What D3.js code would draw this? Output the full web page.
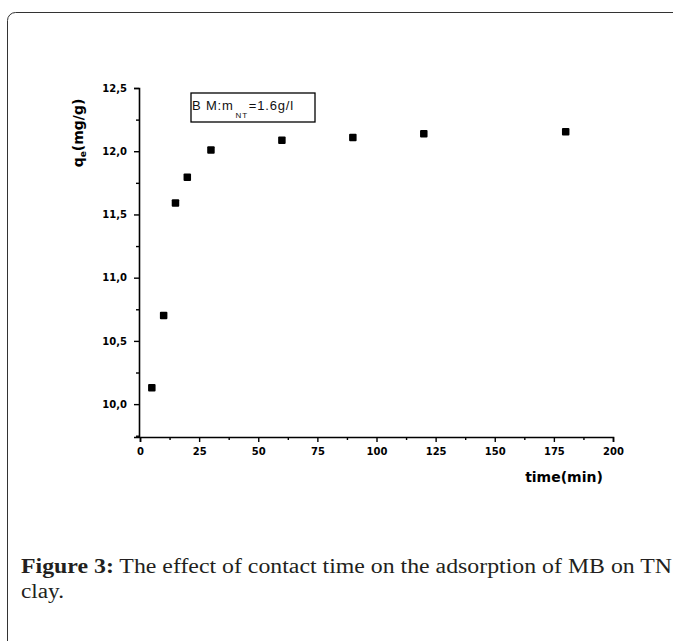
<!DOCTYPE html>
<html>
<head>
<meta charset="utf-8">
<script src="https://cdn.jsdelivr.net/npm/d3@7"></script>
<style>
  body { margin: 0; background: #fff; }
  svg { display: block; }
</style>
</head>
<body>
<svg id="chart" width="673" height="641"></svg>
<script>
// ---- data
const timeMin = [5, 10, 15, 20, 30, 60, 90, 120, 180];
const qe = [10.13, 10.70, 11.59, 11.795, 12.01, 12.087, 12.108, 12.139, 12.155];
const xTicks = [0, 25, 50, 75, 100, 125, 150, 175, 200];
const yTicks = [10.0, 10.5, 11.0, 11.5, 12.0, 12.5];

const svg = d3.select('#chart');

// ---- card frame (runs off the right and bottom edges)
svg.append('rect')
  .attr('x', 7.5).attr('y', 12.5)
  .attr('width', 700).attr('height', 700)
  .attr('rx', 8)
  .attr('fill', 'none')
  .attr('stroke', '#333')
  .attr('stroke-width', 1);

const x = d3.scaleLinear().domain([0, 200]).range([140, 613]);
const y = d3.scaleLinear().domain([9.74, 12.5]).range([437, 88]);

const tickFont = '"DejaVu Sans", Verdana, sans-serif';
const fmt = d => d3.format('.1f')(d).replace('.', ',');

// ---- x axis
svg.append('g').attr('transform', 'translate(0,437)')
  .call(d3.axisBottom(x).tickValues(xTicks).tickSize(5).tickPadding(6).tickFormat(d3.format('d')));
svg.append('g').attr('transform', 'translate(0,437)')
  .call(d3.axisBottom(x).tickValues(d3.range(12.5, 200, 25)).tickSize(3).tickFormat(''))
  .select('.domain').remove();

// ---- y axis
svg.append('g').attr('transform', 'translate(139,0)')
  .call(d3.axisLeft(y).tickValues(yTicks).tickSize(5).tickPadding(7).tickFormat(fmt));
svg.append('g').attr('transform', 'translate(139,0)')
  .call(d3.axisLeft(y).tickValues([9.75, 10.25, 10.75, 11.25, 11.75, 12.25]).tickSize(3).tickFormat(''))
  .select('.domain').remove();

svg.selectAll('.domain').attr('stroke', '#000').attr('stroke-width', 1.6);
svg.selectAll('.tick line').attr('stroke', '#000').attr('stroke-width', 1.4);
svg.selectAll('.tick text')
  .attr('font-family', tickFont)
  .attr('font-weight', 'bold')
  .attr('font-size', 10)
  .attr('fill', '#000');

// ---- axis titles
svg.append('text')
  .attr('x', 564).attr('y', 482)
  .attr('text-anchor', 'middle')
  .attr('font-family', tickFont).attr('font-weight', 'bold').attr('font-size', 14)
  .text('time(min)');

const yl = svg.append('text')
  .attr('transform', 'translate(83,133) rotate(-90)')
  .attr('text-anchor', 'middle')
  .attr('font-family', tickFont).attr('font-weight', 'bold').attr('font-size', 14);
yl.append('tspan').text('q');
yl.append('tspan').attr('dy', 3).attr('font-size', 9).text('e');
yl.append('tspan').attr('dy', -3).text('(mg/g)');

// ---- legend box
svg.append('rect')
  .attr('x', 191).attr('y', 93).attr('width', 124).attr('height', 29)
  .attr('fill', '#fff').attr('stroke', '#000').attr('stroke-width', 1.3);
const lg = svg.append('text')
  .attr('x', 192).attr('y', 110)
  .attr('letter-spacing', 0.8)
  .attr('font-family', '"Liberation Sans", Arial, sans-serif').attr('font-size', 13).attr('fill', '#111');
lg.append('tspan').text('B M:m');
lg.append('tspan').attr('dx', 2).attr('dy', 8).attr('font-size', 8).text('NT');
lg.append('tspan').attr('dx', 1).attr('dy', -8).text('=1.6g/l');

// ---- points
svg.append('g').selectAll('rect')
  .data(timeMin)
  .join('rect')
  .attr('x', (d) => x(d) - 3.75)
  .attr('y', (d, i) => y(qe[i]) - 3.75)
  .attr('width', 7.5).attr('height', 7.5)
  .attr('rx', 1)
  .attr('fill', '#000');

// ---- caption
const capFont = '"Liberation Serif", "Times New Roman", serif';
const cap = svg.append('text')
  .attr('x', 21).attr('y', 573)
  .attr('textLength', 651).attr('lengthAdjust', 'spacingAndGlyphs')
  .attr('font-family', capFont)
  .attr('font-size', 20).attr('fill', '#231f20');
cap.append('tspan').attr('font-weight', 'bold').text('Figure 3:');
cap.append('tspan').text(' The effect of contact time on the adsorption of MB on TN');
svg.append('text')
  .attr('x', 21).attr('y', 598)
  .attr('textLength', 43).attr('lengthAdjust', 'spacingAndGlyphs')
  .attr('font-family', capFont)
  .attr('font-size', 20).attr('fill', '#231f20')
  .text('clay.');
</script>
</body>
</html>
